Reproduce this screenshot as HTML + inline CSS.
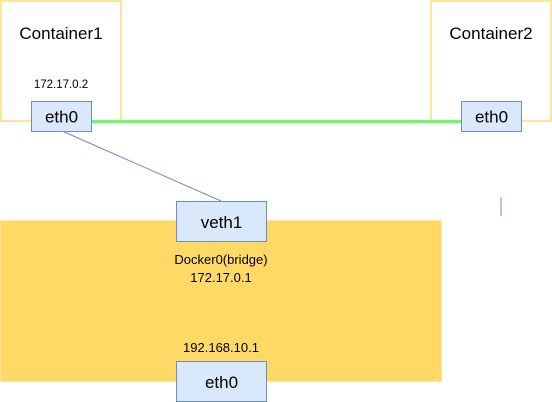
<!DOCTYPE html>
<html><head><style>html,body{margin:0;padding:0;background:#fff;}svg{display:block}</style></head>
<body>
<svg width="552" height="402" xmlns="http://www.w3.org/2000/svg" font-family="Liberation Sans, Arial, sans-serif">
<rect x="0" y="0" width="552" height="402" fill="#fff"/>
<rect x="1" y="1" width="120" height="120" fill="#fff" stroke="#FFE599" stroke-width="2"/>
<rect x="431" y="1" width="120" height="120" fill="#fff" stroke="#FFE599" stroke-width="2"/>
<text x="61" y="39" font-size="17" text-anchor="middle">Container1</text>
<text x="491" y="39" font-size="17" text-anchor="middle">Container2</text>
<text x="61" y="88" font-size="11.5" text-anchor="middle">172.17.0.2</text>
<rect x="0.5" y="220.5" width="441" height="161" fill="#FFD966" stroke="#FFE599" stroke-width="1"/>
<line x1="91" y1="121.5" x2="461" y2="121.5" stroke="#66FF66" stroke-width="3"/>
<line x1="62" y1="131" x2="221" y2="201" stroke="#6C8EBF" stroke-width="1"/>
<line x1="501" y1="197" x2="501" y2="216" stroke="#6C8EBF" stroke-width="1"/>
<rect x="31.5" y="101.5" width="60" height="30" fill="#DAE8FC" stroke="#6C8EBF"/>
<text x="61.5" y="122.5" font-size="17" text-anchor="middle">eth0</text>
<rect x="461.5" y="101.5" width="60" height="30" fill="#DAE8FC" stroke="#6C8EBF"/>
<text x="491.5" y="122.5" font-size="17" text-anchor="middle">eth0</text>
<rect x="176.5" y="201.5" width="90" height="40" fill="#DAE8FC" stroke="#6C8EBF"/>
<text x="221.5" y="228" font-size="17" text-anchor="middle">veth1</text>
<text x="221" y="264" font-size="13" text-anchor="middle">Docker0(bridge)</text>
<text x="221" y="282" font-size="13" text-anchor="middle">172.17.0.1</text>
<text x="221" y="352" font-size="13" text-anchor="middle">192.168.10.1</text>
<rect x="176.5" y="361.5" width="90" height="40" fill="#DAE8FC" stroke="#6C8EBF"/>
<text x="221.5" y="388" font-size="17" text-anchor="middle">eth0</text>
</svg>
</body></html>
